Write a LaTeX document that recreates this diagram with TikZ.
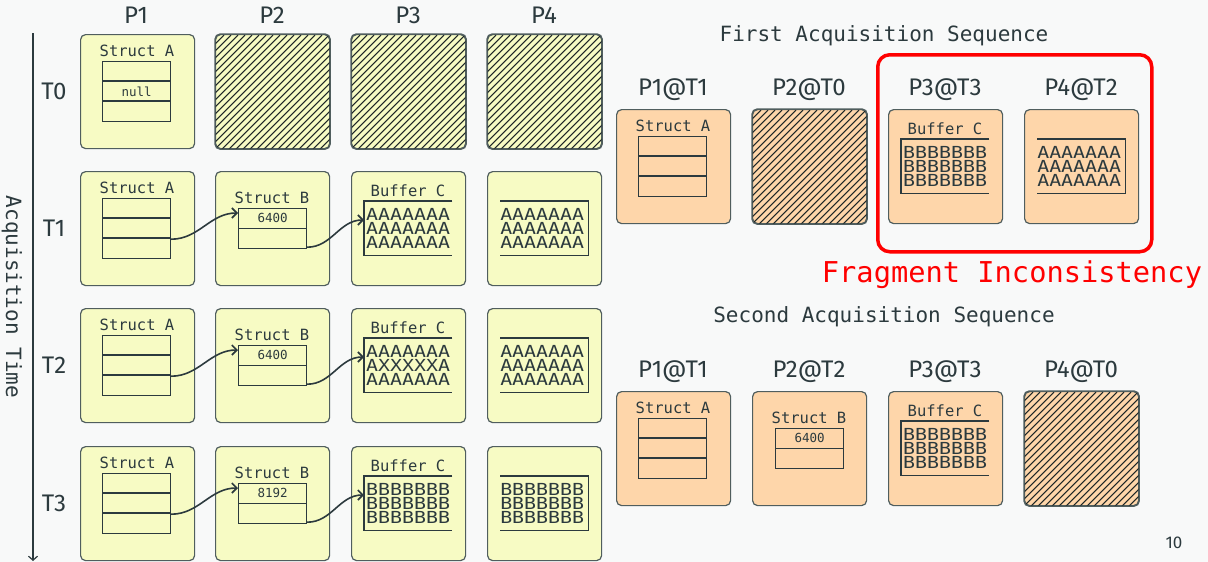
\documentclass[tikz,border=0pt]{standalone}
\usepackage{fontspec}
\newfontfamily\monof{DejaVu Sans Mono}
\newfontfamily\buff[FakeStretch=1.2]{DejaVu Sans Mono}
\newfontfamily\labf{Fira Sans}
\usetikzlibrary{arrows.meta,calc}
\definecolor{bg}{RGB}{248,249,249}
\definecolor{yel}{RGB}{247,251,196}
\definecolor{ora}{RGB}{254,214,170}
\definecolor{edgec}{RGB}{80,94,94}
\definecolor{ink}{RGB}{44,58,62}
\definecolor{hatchc}{RGB}{30,38,38}
\tikzset{
  panel/.style={draw=edgec, line width=1.2pt, rounded corners=5pt, minimum width=114pt, minimum height=114pt, anchor=north west, inner sep=0pt},
  tbl/.style={draw=ink, line width=1.2pt, anchor=north west, inner sep=0pt, minimum width=68pt},
  tline/.style={draw=ink, line width=1.2pt},
  frm/.style={anchor=north west, inner sep=0pt, minimum width=88pt, minimum height=54pt},
  lbl/.style={text=ink, inner sep=0pt, font=\monof\fontsize{15.5pt}{18pt}\selectfont},
  small/.style={text=ink, inner sep=0pt, font=\monof\fontsize{12.5pt}{14pt}\selectfont},
  buf/.style={text=ink, inner sep=0pt, align=left, font=\buff\fontsize{16.6pt}{14.2pt}\selectfont},
  head/.style={text=ink, inner sep=0pt, font=\labf\fontsize{24pt}{27pt}\selectfont},
  title/.style={text=ink, inner sep=0pt, font=\monof\fontsize{21pt}{24pt}\selectfont},
  hatchline/.style={draw=hatchc, line width=1.1pt},
  conn/.style={draw=ink, line width=1.6pt, -{Straight Barb[length=5pt,width=10pt]}},
}
\newcommand\Panel[4]{\node[panel, fill=#4] (#1) at (#2,#3) {};}
\newcommand\HPanel[4]{%
  \node[panel, fill=#4] (#1) at (#2,#3) {};
  \begin{scope}
    \clip[rounded corners=5pt] (#1.north west) rectangle (#1.south east);
    \foreach \k in {-119,-112,...,119} \draw[hatchline] ($(#1.south west)+(\k,0)$) -- ++(114,-114);
  \end{scope}
  \draw[draw=edgec, line width=1.2pt, rounded corners=5pt] (#1.north west) rectangle (#1.south east);}
\newcommand\StructA[4]{%
  \node[lbl] (#1l) at (#2+57,#3+17) {Struct A};
  \node[tbl, minimum height=60pt] (#1) at (#2+22,#3+27) {};
  \draw[tline] ($(#1.north west)+(0,20)$) -- ($(#1.north east)+(0,20)$)
               ($(#1.north west)+(0,40)$) -- ($(#1.north east)+(0,40)$);
  \node[small] (#1v) at ($(#1.center)$) {#4};}
\newcommand\StructB[4]{%
  \node[lbl] (#1l) at (#2+57,#3+27) {Struct B};
  \node[tbl, minimum height=40pt] (#1) at (#2+23,#3+37) {};
  \draw[tline] (#1.west) -- (#1.east);
  \node[small] (#1v) at ($(#1.north)+(0,10)$) {#4};}
\newcommand\BufL[4]{%
  \node[lbl] (#1l) at (#2+57,#3+20) {Buffer C};
  \node[frm] (#1) at (#2+13,#3+30) {};
  \draw[tline] (#1.north east) -- (#1.north west) -- (#1.south west) -- (#1.south east);
  \node[buf, anchor=west] (#1t) at ($(#1.west)+(2,0)$) {#4};}
\newcommand\BufR[4]{%
  \node[frm] (#1) at (#2+13,#3+30) {};
  \draw[tline] (#1.north west) -- (#1.north east) -- (#1.south east) -- (#1.south west);
  \node[buf, anchor=east] (#1t) at ($(#1.east)+(-4,0)$) {#4};}
\begin{document}
\begin{tikzpicture}[x=1pt,y=-1pt]
\useasboundingbox (0,0) rectangle (1208,562);
\fill[bg] (0,0) rectangle (1208,562);
% axis
\coordinate (ax0) at (33,33);
\coordinate (ax1) at (33,561);
\draw[draw=ink, line width=1.2pt, -{Straight Barb[length=4pt,width=9pt]}] (ax0) -- (ax1);
\node[title, rotate=-90] (axl) at (12,297) {Acquisition Time};
% column heads
\node[head] (cp1) at (136,15) {P1};
\node[head] (cp2) at (272,15) {P2};
\node[head] (cp3) at (408,15) {P3};
\node[head] (cp4) at (544,15) {P4};
% row heads
\node[head] (rt0) at (54,91) {T0};
\node[head] (rt1) at (54,228) {T1};
\node[head] (rt2) at (54,365) {T2};
\node[head] (rt3) at (54,503) {T3};
% row T0
\Panel{g00}{80}{34}{yel}
\StructA{a0}{80}{34}{null}
\HPanel{g01}{215}{34}{yel}
\HPanel{g02}{351}{34}{yel}
\HPanel{g03}{487}{34}{yel}
% row T1
\Panel{g10}{80}{171}{yel}
\Panel{g11}{215}{171}{yel}
\Panel{g12}{351}{171}{yel}
\Panel{g13}{487}{171}{yel}
\StructA{a1}{80}{171}{}
\StructB{b1}{215}{171}{6400}
\BufL{c1}{351}{171}{AAAAAAA\\AAAAAAA\\AAAAAAA}
\BufR{d1}{487}{171}{AAAAAAA\\AAAAAAA\\AAAAAAA}
% row T2
\Panel{g20}{80}{308}{yel}
\Panel{g21}{215}{308}{yel}
\Panel{g22}{351}{308}{yel}
\Panel{g23}{487}{308}{yel}
\StructA{a2}{80}{308}{}
\StructB{b2}{215}{308}{6400}
\BufL{c2}{351}{308}{AAAAAAA\\AXXXXXA\\AAAAAAA}
\BufR{d2}{487}{308}{AAAAAAA\\AAAAAAA\\AAAAAAA}
% row T3
\Panel{g30}{80}{446}{yel}
\Panel{g31}{215}{446}{yel}
\Panel{g32}{351}{446}{yel}
\Panel{g33}{487}{446}{yel}
\StructA{a3}{80}{446}{}
\StructB{b3}{215}{446}{8192}
\BufL{c3}{351}{446}{BBBBBBB\\BBBBBBB\\BBBBBBB}
\BufR{d3}{487}{446}{BBBBBBB\\BBBBBBB\\BBBBBBB}
% connectors
\foreach \r in {1,2,3}{
  \draw[conn] ($(a\r.south east)+(0,-20)$) to[out=0,in=180] ($(b\r.north west)+(0,5)$);
  \draw[conn] ($(b\r.south east)+(0,-2)$) to[out=0,in=180] ($(c\r.north west)+(0,19)$);
}
% first acquisition sequence
\node[title] (t1) at (884,36) {First Acquisition Sequence};
\node[head] (h11) at (673,90) {P1@T1};
\node[head] (h12) at (809,90) {P2@T0};
\node[head] (h13) at (945,90) {P3@T3};
\node[head] (h14) at (1081,90) {P4@T2};
\Panel{f1}{616}{109}{ora}
\StructA{fa}{616}{109}{}
\HPanel{f2}{752}{109}{ora}
\Panel{f3}{888}{109}{ora}
\BufL{fc}{888}{109}{BBBBBBB\\BBBBBBB\\BBBBBBB}
\Panel{f4}{1024}{109}{ora}
\BufR{fd}{1024}{109}{AAAAAAA\\AAAAAAA\\AAAAAAA}
\node[draw=red, line width=3.5pt, rounded corners=12pt, minimum width=274pt, minimum height=197pt, anchor=north west, inner sep=0pt] (frag) at (876,53) {};
\node[text=red, inner sep=0pt, font=\monof\fontsize{28.7pt}{32pt}\selectfont] (fragl) at (1012,275) {Fragment Inconsistency};
% second acquisition sequence
\node[title] (t2) at (884,317) {Second Acquisition Sequence};
\node[head] (h21) at (673,372) {P1@T1};
\node[head] (h22) at (809,372) {P2@T2};
\node[head] (h23) at (945,372) {P3@T3};
\node[head] (h24) at (1081,372) {P4@T0};
\Panel{s1}{616}{391}{ora}
\StructA{sa}{616}{391}{}
\Panel{s2}{752}{391}{ora}
\StructB{sb}{752}{391}{6400}
\Panel{s3}{888}{391}{ora}
\BufL{sc}{888}{391}{BBBBBBB\\BBBBBBB\\BBBBBBB}
\HPanel{s4}{1024}{391}{ora}
\node[text=ink, inner sep=0pt, font=\labf\fontsize{17pt}{20pt}\selectfont] (pg) at (1174,543) {10};
\end{tikzpicture}
\end{document}
